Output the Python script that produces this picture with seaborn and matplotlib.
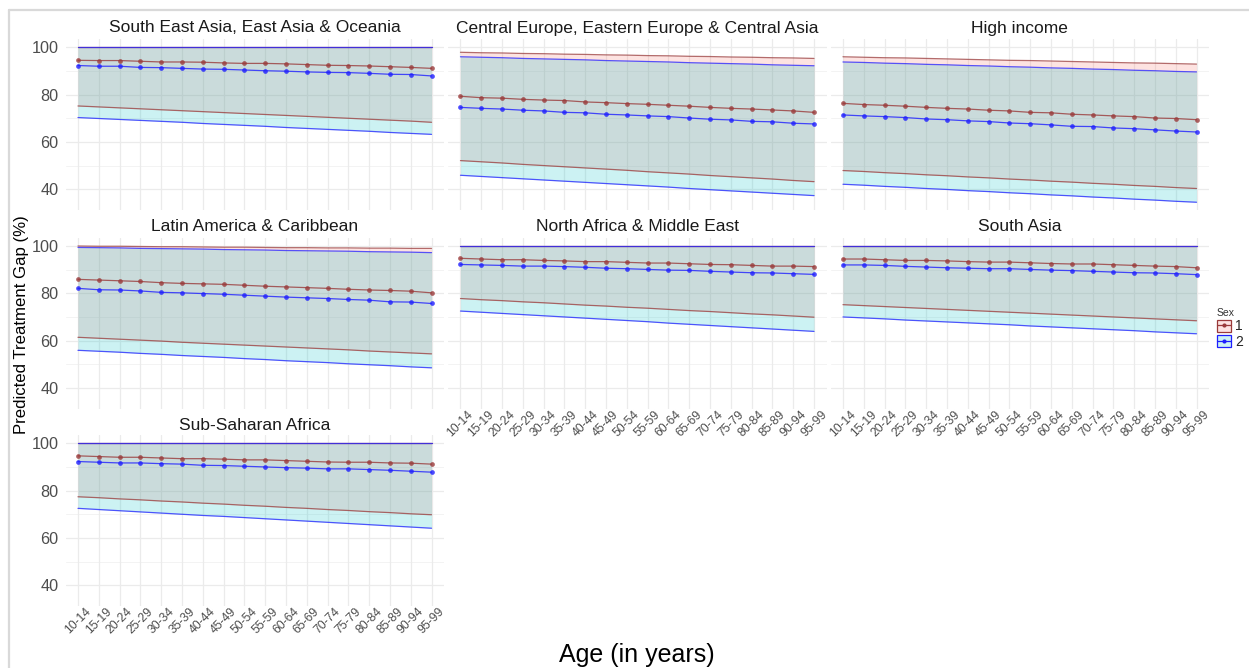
import numpy as np
import pandas as pd
import matplotlib
matplotlib.use("Agg")
import matplotlib.pyplot as plt
import seaborn as sns
from matplotlib.patches import Patch
from matplotlib.lines import Line2D
from matplotlib.legend_handler import HandlerTuple

# ---------------- data ----------------
ages = ["10-14", "15-19", "20-24", "25-29", "30-34", "35-39", "40-44", "45-49", "50-54",
        "55-59", "60-64", "65-69", "70-74", "75-79", "80-84", "85-89", "90-94", "95-99"]
regions = ["South East Asia, East Asia & Oceania",
           "Central Europe, Eastern Europe & Central Asia",
           "High income",
           "Latin America & Caribbean",
           "North Africa & Middle East",
           "South Asia",
           "Sub-Saharan Africa"]
sexes = ["1", "2"]

# South East Asia, East Asia & Oceania
sea_mean1 = [94.5, 94.4, 94.4, 94.1, 93.8, 93.8, 93.7, 93.4, 93.2, 93.2, 93.0, 92.7, 92.4, 92.3, 92.1, 91.8, 91.5, 91.1]
sea_lo1 = [75.2, 74.8, 74.4, 74.0, 73.6, 73.2, 72.8, 72.4, 72.0, 71.6, 71.2, 70.8, 70.4, 70.0, 69.6, 69.2, 68.8, 68.3]
sea_hi1 = [100, 100, 100, 100, 100, 100, 100, 100, 100, 100, 100, 100, 100, 100, 100, 100, 100, 100]
sea_mean2 = [92.3, 92.0, 92.0, 91.5, 91.4, 91.1, 90.8, 90.7, 90.4, 90.1, 89.9, 89.6, 89.4, 89.3, 89.0, 88.6, 88.5, 87.9]
sea_lo2 = [70.3, 69.9, 69.5, 69.1, 68.7, 68.3, 67.8, 67.4, 67.0, 66.6, 66.1, 65.7, 65.3, 64.9, 64.5, 64.0, 63.6, 63.2]
sea_hi2 = [100, 100, 100, 100, 100, 100, 100, 100, 100, 100, 100, 100, 100, 100, 100, 100, 100, 100]

# Central Europe, Eastern Europe & Central Asia
cee_mean1 = [79.3, 78.7, 78.5, 78.0, 77.7, 77.5, 76.9, 76.6, 76.2, 75.9, 75.5, 75.1, 74.6, 74.2, 73.9, 73.5, 73.1, 72.5]
cee_lo1 = [52.1, 51.6, 51.1, 50.5, 50.0, 49.5, 49.0, 48.5, 48.0, 47.4, 46.9, 46.4, 45.8, 45.3, 44.8, 44.3, 43.7, 43.2]
cee_hi1 = [97.9, 97.7, 97.6, 97.4, 97.3, 97.1, 97.0, 96.8, 96.7, 96.5, 96.4, 96.2, 96.1, 95.9, 95.8, 95.6, 95.5, 95.3]
cee_mean2 = [74.6, 74.2, 73.9, 73.4, 73.1, 72.5, 72.3, 71.7, 71.4, 71.0, 70.7, 70.1, 69.6, 69.3, 68.7, 68.5, 67.9, 67.6]
cee_lo2 = [45.9, 45.4, 44.9, 44.4, 43.9, 43.4, 42.9, 42.4, 41.9, 41.4, 40.9, 40.3, 39.8, 39.3, 38.8, 38.3, 37.8, 37.3]
cee_hi2 = [96.0, 95.8, 95.6, 95.3, 95.1, 94.9, 94.7, 94.4, 94.2, 94.0, 93.8, 93.5, 93.3, 93.1, 92.9, 92.6, 92.4, 92.2]

# High income
hi_mean1 = [76.3, 75.8, 75.5, 75.1, 74.6, 74.2, 73.9, 73.4, 73.1, 72.5, 72.3, 71.7, 71.4, 71.0, 70.7, 70.1, 69.9, 69.4]
hi_lo1 = [47.9, 47.5, 47.0, 46.6, 46.1, 45.7, 45.2, 44.8, 44.3, 43.9, 43.4, 43.0, 42.5, 42.1, 41.6, 41.2, 40.7, 40.3]
hi_hi1 = [96.0, 95.8, 95.6, 95.5, 95.3, 95.1, 94.9, 94.7, 94.5, 94.4, 94.2, 94.0, 93.8, 93.6, 93.4, 93.3, 93.1, 92.9]
hi_mean2 = [71.4, 71.0, 70.7, 70.3, 69.7, 69.4, 68.9, 68.6, 68.0, 67.7, 67.2, 66.6, 66.5, 65.9, 65.6, 65.1, 64.6, 64.2]
hi_lo2 = [42.1, 41.7, 41.2, 40.8, 40.3, 39.9, 39.4, 39.0, 38.5, 38.1, 37.6, 37.2, 36.7, 36.3, 35.8, 35.4, 34.9, 34.5]
hi_hi2 = [93.8, 93.6, 93.3, 93.1, 92.8, 92.6, 92.3, 92.1, 91.8, 91.6, 91.3, 91.1, 90.8, 90.6, 90.3, 90.1, 89.8, 89.6]

# Latin America & Caribbean
lac_mean1 = [85.9, 85.6, 85.3, 85.0, 84.5, 84.2, 84.0, 83.8, 83.4, 83.0, 82.7, 82.4, 82.1, 81.7, 81.4, 81.2, 80.9, 80.2]
lac_lo1 = [61.4, 61.0, 60.6, 60.2, 59.8, 59.3, 58.9, 58.5, 58.1, 57.7, 57.3, 56.9, 56.5, 56.1, 55.6, 55.2, 54.8, 54.4]
lac_hi1 = [100.0, 99.9, 99.9, 99.8, 99.7, 99.7, 99.6, 99.5, 99.5, 99.4, 99.3, 99.3, 99.2, 99.2, 99.1, 99.1, 99.0, 99.0]
lac_mean2 = [82.1, 81.5, 81.4, 81.0, 80.4, 80.2, 79.9, 79.6, 79.2, 78.8, 78.4, 78.1, 77.8, 77.4, 77.1, 76.4, 76.3, 75.7]
lac_lo2 = [55.9, 55.5, 55.1, 54.6, 54.2, 53.7, 53.3, 52.9, 52.4, 52.0, 51.5, 51.1, 50.7, 50.2, 49.8, 49.4, 48.9, 48.5]
lac_hi2 = [99.4, 99.3, 99.2, 99.0, 98.9, 98.8, 98.7, 98.5, 98.4, 98.3, 98.1, 98.0, 97.9, 97.8, 97.6, 97.5, 97.4, 97.2]

# North Africa & Middle East
mena_mean1 = [94.8, 94.5, 94.2, 94.2, 93.9, 93.7, 93.4, 93.4, 93.1, 92.8, 92.8, 92.5, 92.2, 92.1, 91.8, 91.5, 91.5, 91.3]
mena_lo1 = [77.8, 77.3, 76.9, 76.4, 76.0, 75.5, 75.0, 74.6, 74.1, 73.7, 73.2, 72.7, 72.3, 71.8, 71.3, 70.9, 70.4, 69.9]
mena_hi1 = [100, 100, 100, 100, 100, 100, 100, 100, 100, 100, 100, 100, 100, 100, 100, 100, 100, 100]
mena_mean2 = [92.2, 92.0, 91.8, 91.5, 91.5, 91.3, 91.0, 90.6, 90.4, 90.1, 89.8, 89.7, 89.3, 89.0, 88.7, 88.6, 88.3, 88.0]
mena_lo2 = [72.5, 72.0, 71.5, 71.0, 70.5, 70.0, 69.5, 69.0, 68.5, 68.0, 67.4, 66.9, 66.4, 65.9, 65.4, 64.9, 64.4, 63.9]
mena_hi2 = [100, 100, 100, 100, 100, 100, 100, 100, 100, 100, 100, 100, 100, 100, 100, 100, 100, 100]

# South Asia
sa_mean1 = [94.5, 94.5, 94.2, 93.9, 93.9, 93.7, 93.4, 93.2, 93.2, 92.9, 92.6, 92.4, 92.4, 92.1, 91.8, 91.5, 91.3, 90.8]
sa_lo1 = [75.2, 74.8, 74.4, 74.0, 73.6, 73.2, 72.8, 72.4, 72.0, 71.6, 71.2, 70.8, 70.4, 70.0, 69.6, 69.2, 68.8, 68.4]
sa_hi1 = [100, 100, 100, 100, 100, 100, 100, 100, 100, 100, 100, 100, 100, 100, 100, 100, 100, 100]
sa_mean2 = [92.0, 92.0, 91.8, 91.4, 91.1, 90.8, 90.6, 90.4, 90.4, 90.1, 89.8, 89.6, 89.3, 89.0, 88.7, 88.6, 88.3, 87.9]
sa_lo2 = [70.0, 69.6, 69.2, 68.7, 68.3, 67.9, 67.5, 67.1, 66.7, 66.2, 65.8, 65.4, 65.0, 64.6, 64.2, 63.7, 63.3, 62.9]
sa_hi2 = [100, 100, 100, 100, 100, 100, 100, 100, 100, 100, 100, 100, 100, 100, 100, 100, 100, 100]

# Sub-Saharan Africa
ssa_mean1 = [94.7, 94.4, 94.1, 94.1, 93.8, 93.5, 93.5, 93.3, 93.0, 93.0, 92.7, 92.4, 92.1, 92.0, 92.0, 91.7, 91.6, 91.2]
ssa_lo1 = [77.4, 77.0, 76.5, 76.1, 75.6, 75.2, 74.7, 74.3, 73.8, 73.4, 72.9, 72.5, 72.0, 71.6, 71.1, 70.7, 70.2, 69.8]
ssa_hi1 = [100, 100, 100, 100, 100, 100, 100, 100, 100, 100, 100, 100, 100, 100, 100, 100, 100, 100]
ssa_mean2 = [92.3, 92.0, 91.7, 91.7, 91.4, 91.2, 90.7, 90.6, 90.3, 90.0, 89.7, 89.5, 89.2, 89.2, 88.9, 88.6, 88.2, 87.8]
ssa_lo2 = [72.5, 72.0, 71.5, 71.0, 70.5, 70.0, 69.5, 69.1, 68.6, 68.1, 67.6, 67.1, 66.6, 66.1, 65.6, 65.1, 64.6, 64.1]
ssa_hi2 = [100, 100, 100, 100, 100, 100, 100, 100, 100, 100, 100, 100, 100, 100, 100, 100, 100, 100]

yticks = [40, 60, 80, 100]

series = {
    regions[0]: [(sea_mean1, sea_lo1, sea_hi1), (sea_mean2, sea_lo2, sea_hi2)],
    regions[1]: [(cee_mean1, cee_lo1, cee_hi1), (cee_mean2, cee_lo2, cee_hi2)],
    regions[2]: [(hi_mean1, hi_lo1, hi_hi1), (hi_mean2, hi_lo2, hi_hi2)],
    regions[3]: [(lac_mean1, lac_lo1, lac_hi1), (lac_mean2, lac_lo2, lac_hi2)],
    regions[4]: [(mena_mean1, mena_lo1, mena_hi1), (mena_mean2, mena_lo2, mena_hi2)],
    regions[5]: [(sa_mean1, sa_lo1, sa_hi1), (sa_mean2, sa_lo2, sa_hi2)],
    regions[6]: [(ssa_mean1, ssa_lo1, ssa_hi1), (ssa_mean2, ssa_lo2, ssa_hi2)],
}

rows = []
for reg in regions:
    for sx, (m, lo, hi) in zip(sexes, series[reg]):
        for i, a in enumerate(ages):
            rows.append(dict(Region=reg, Sex=sx, Age=a, pos=i, mean=m[i], lo=lo[i], hi=hi[i]))
df = pd.DataFrame(rows)

# ---------------- style ----------------
sns.set_theme(style="white")
plt.rcParams['font.family'] = ['Liberation Sans', 'DejaVu Sans']

LINE = {"1": "#9A3A3A", "2": "#1F1FFF"}
FILL = {"1": "#F8766D", "2": "#00BFC4"}
GRID = "#EBEBEB"
TXT = "#4D4D4D"

W, H = 1249, 668
fig = plt.figure(figsize=(W / 100, H / 100), dpi=100)
fig.patch.set_facecolor("white")

lefts = [65.5, 448.0, 830.5]
tops = [38.8, 237.5, 434.8]
pw, ph = 378.5, 171.0
title_y = [28, 227, 426]

def add_ax(l, t):
    return fig.add_axes([l / W, 1 - (t + ph) / H, pw / W, ph / H])

bottom_label = {4, 5, 6}
for k, reg in enumerate(regions):
    r, c = divmod(k, 3)
    ax = add_ax(lefts[c], tops[r])
    ax.set_facecolor("white")
    for s in ax.spines.values():
        s.set_visible(False)
    ax.set_axisbelow(True)
    # grid
    for yv in [50, 70, 90]:
        ax.axhline(yv, color="#F3F3F3", lw=0.7, zorder=0)
    for yv in yticks:
        ax.axhline(yv, color=GRID, lw=0.9, zorder=0)
    for xv in range(len(ages)):
        ax.axvline(xv, color=GRID, lw=0.9, zorder=0)

    sub = df[df.Region == reg]
    for sx in sexes:
        d = sub[sub.Sex == sx]
        ax.fill_between(d["pos"], d["lo"], d["hi"], color=FILL[sx], alpha=0.2, lw=0, zorder=1)
    for sx in sexes:
        d = sub[sub.Sex == sx]
        for col in ["lo", "hi"]:
            sns.lineplot(data=d, x="pos", y=col, color=LINE[sx], lw=0.9, alpha=0.75,
                         ax=ax, legend=False, zorder=2)
    for sx in sexes:
        d = sub[sub.Sex == sx]
        sns.lineplot(data=d, x="pos", y="mean", color=LINE[sx], lw=0.9, alpha=0.8,
                     marker="o", markersize=3.4, markeredgewidth=0, ax=ax, legend=False, zorder=3)

    ax.set_xlim(-0.6, len(ages) - 1 + 0.6)
    ax.set_ylim(31.3, 103.6)
    ax.set_xticks(range(len(ages)))
    ax.set_yticks(yticks)
    ax.set_xlabel("")
    ax.set_ylabel("")
    ax.tick_params(length=0)
    if k in bottom_label:
        ax.set_xticklabels(ages, rotation=45, ha="center", va="top", fontsize=8.7, color=TXT)
        ax.tick_params(axis="x", pad=0)
    else:
        ax.set_xticklabels([])
    if c == 0:
        ax.set_yticklabels([str(v) for v in yticks], fontsize=11.7, color=TXT)
        ax.tick_params(axis="y", pad=5)
    else:
        ax.set_yticklabels([])
    fig.text((lefts[c] + pw / 2) / W, 1 - title_y[r] / H, reg, ha="center", va="center",
             fontsize=12.5, color="#1A1A1A")

fig.text(22 / W, 1 - 325 / H, "Predicted Treatment Gap (%)", rotation=90, ha="center",
         va="center", fontsize=12.1, color="#000000")
fig.text(637 / W, 1 - 655 / H, "Age (in years)", ha="center", va="center",
         fontsize=18, color="#000000")

# legend
handles = []
for sx in sexes:
    handles.append((Patch(facecolor=matplotlib.colors.to_rgba(FILL[sx], 0.2), edgecolor=LINE[sx], lw=0.9),
                    Line2D([0], [0], color=LINE[sx], lw=0.9, marker="o", markersize=3, markeredgewidth=0)))
leg = fig.legend(handles, sexes, title="Sex", loc="upper left",
                 bbox_to_anchor=(1207 / W, 1 - 298 / H), frameon=False,
                 handler_map={tuple: HandlerTuple(ndivide=1, pad=0)},
                 fontsize=10, title_fontsize=7.5, handlelength=1.05, handleheight=0.95,
                 handletextpad=0.3, labelspacing=0.12, borderpad=0.2, alignment="left")
leg.get_title().set_color("#333333")

# screenshot frame
fig.add_artist(Line2D([9 / W, 9 / W], [0, 1 - 10 / H], color="#D9D9D9", lw=1.6, transform=fig.transFigure))
fig.add_artist(Line2D([9 / W, 1], [1 - 10 / H, 1 - 10 / H], color="#D9D9D9", lw=1.6, transform=fig.transFigure))

fig.savefig("out.png", dpi=100, facecolor="white")
